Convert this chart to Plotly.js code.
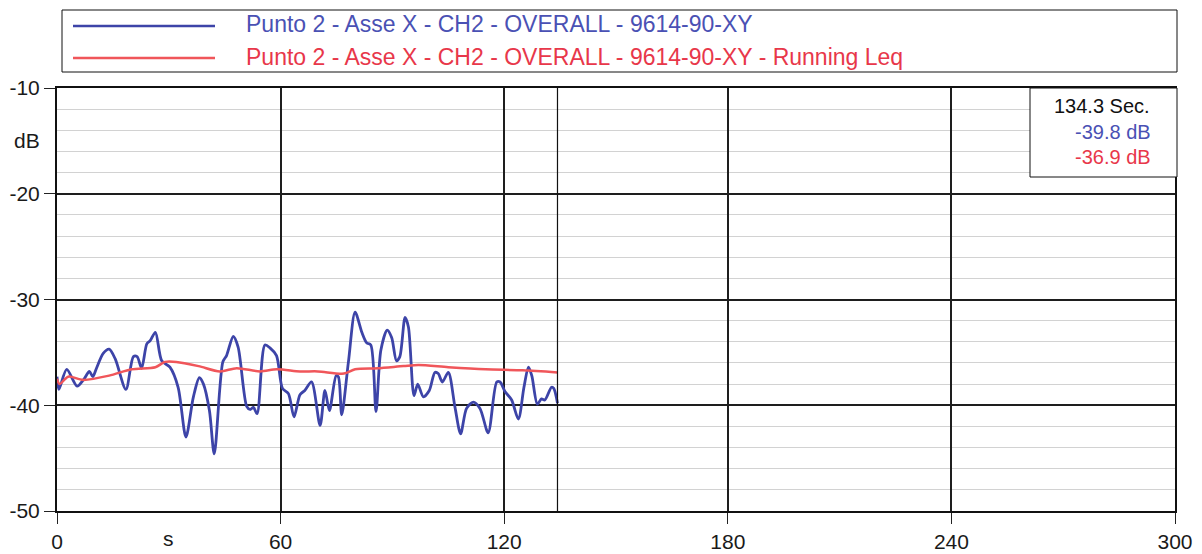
<!DOCTYPE html>
<html>
<head>
<meta charset="utf-8">
<script src="https://cdn.plot.ly/plotly-3.0.1.min.js"></script>
<style>
html,body{margin:0;padding:0;background:#fff;}
#chart{width:1202px;height:554px;}
</style>
</head>
<body>
<div id="chart"></div>
<script>
// ---- data ----
const seriesNames = [
  "Punto 2 - Asse X - CH2 - OVERALL - 9614-90-XY",
  "Punto 2 - Asse X - CH2 - OVERALL - 9614-90-XY - Running Leq"
];
const overallTime = [0, 0.5, 2.6, 5.4, 7.1, 8.7, 9.6, 10.6, 12.4, 14.0, 15.6, 18.5, 20.5, 21.5, 22.7, 24.1, 25.0, 26.4, 28.1, 30.3, 32.5, 34.6, 36.6, 38.2, 39.3, 40.9, 42.2, 44.5, 45.5, 47.3, 48.6, 50.9, 51.8, 52.7, 53.7, 55.8, 57.2, 58.9, 60.5, 62.1, 63.6, 65.2, 66.5, 68.3, 70.6, 71.9, 73.1, 74.9, 75.5, 76.4, 78.2, 80.0, 81.8, 83.1, 84.2, 85.6, 86.9, 88.6, 89.8, 91.1, 92.0, 93.4, 94.3, 95.8, 96.8, 98.3, 99.9, 101.4, 102.3, 103.4, 105.0, 106.8, 108.3, 109.9, 111.7, 113.5, 115.7, 118.0, 118.9, 120.2, 122.0, 123.8, 125.3, 126.5, 127.4, 128.9, 130.0, 130.9, 132.7, 133.3, 134.3];
const overallDb = [-37.3, -38.5, -36.6, -38.2, -37.6, -36.8, -37.3, -36.5, -35.1, -34.7, -35.6, -38.5, -35.4, -35.4, -36.5, -34.2, -33.9, -33.1, -35.8, -36.4, -38.3, -43.0, -39.2, -37.4, -38.0, -40.5, -44.6, -35.9, -35.3, -33.5, -34.5, -40.1, -40.4, -40.2, -40.8, -34.3, -34.6, -35.3, -38.4, -38.9, -41.1, -39.0, -38.6, -37.8, -41.9, -38.6, -40.5, -37.2, -37.3, -40.9, -35.9, -31.2, -33.1, -34.1, -34.3, -40.6, -34.8, -32.9, -33.6, -35.8, -35.4, -31.7, -32.6, -39.1, -38.0, -39.2, -38.6, -36.9, -37.0, -37.8, -36.9, -40.2, -42.7, -40.3, -39.7, -40.3, -42.6, -37.8, -37.8, -38.7, -39.5, -41.3, -38.3, -36.4, -37.2, -39.9, -39.4, -39.5, -38.3, -38.4, -39.8];
const leqTime = [0, 0.7, 3, 7, 14, 20, 26.4, 29, 32, 38, 43.7, 48.2, 54.5, 59, 65.2, 70, 77, 80, 86, 93, 97, 105, 115, 125, 134.3];
const leqDb = [-37.5, -38.0, -37.3, -37.6, -37.2, -36.6, -36.4, -35.9, -35.9, -36.3, -36.8, -36.5, -36.8, -36.6, -36.8, -36.8, -37.0, -36.6, -36.5, -36.3, -36.2, -36.4, -36.6, -36.7, -36.9];
const xTicks = [0, 60, 120, 180, 240, 300];
const yTicks = [-50, -40, -30, -20, -10];
const cursorTime = 134.3;
const cursorReadout = ["134.3 Sec.", "-39.8 dB", "-36.9 dB"];
const xUnit = "s";
const yUnit = "dB";

// ---- style ----
const BLUE = "#3d44a8", BLUE_TXT = "#4a51b4";
const RED = "#f0565a", RED_TXT = "#e8374a";
const FONT = "Liberation Sans, Arial, sans-serif";
const W = 1202, H = 554, ML = 57, MR = 27, MT = 88, MB = 43;
const PW = W - ML - MR, PH = H - MT - MB;
const px = x => (x - ML) / PW;
const py = y => (H - MB - y) / PH;

const traces = [
  {x: overallTime, y: overallDb, type: "scatter", mode: "lines", name: seriesNames[0],
   line: {color: BLUE, width: 2.8, shape: "spline", smoothing: 0.8}, showlegend: false},
  {x: leqTime, y: leqDb, type: "scatter", mode: "lines", name: seriesNames[1],
   line: {color: RED, width: 2.5, shape: "spline", smoothing: 0.8}, showlegend: false}
];

const shapes = [
  {type: "line", xref: "x", yref: "paper", x0: cursorTime, x1: cursorTime, y0: 0, y1: 1,
   line: {color: "#111", width: 1.2}, layer: "above"},
  {type: "rect", xref: "paper", yref: "paper", x0: px(62), x1: px(1177), y0: py(72), y1: py(10),
   line: {color: "#111", width: 1}, fillcolor: "#fff"},
  {type: "line", xref: "paper", yref: "paper", x0: px(73), x1: px(215), y0: py(26), y1: py(26),
   line: {color: BLUE, width: 2.6}},
  {type: "line", xref: "paper", yref: "paper", x0: px(73), x1: px(215), y0: py(58), y1: py(58),
   line: {color: RED, width: 2.6}},
  {type: "rect", xref: "paper", yref: "paper", x0: px(1030), x1: px(1177), y0: py(177), y1: py(88),
   line: {color: "#111", width: 1}, fillcolor: "#fff", layer: "above"}
];

const annotations = [
  {xref: "paper", yref: "paper", x: px(244), y: py(24), xanchor: "left", yanchor: "middle",
   text: seriesNames[0], showarrow: false, font: {family: FONT, size: 23, color: BLUE_TXT}},
  {xref: "paper", yref: "paper", x: px(244), y: py(57), xanchor: "left", yanchor: "middle",
   text: seriesNames[1], showarrow: false, font: {family: FONT, size: 23, color: RED_TXT}},
  {xref: "paper", yref: "paper", x: px(1152), y: py(106), xanchor: "right", yanchor: "middle",
   text: cursorReadout[0], showarrow: false, font: {family: FONT, size: 20, color: "#111"}},
  {xref: "paper", yref: "paper", x: px(1153), y: py(132), xanchor: "right", yanchor: "middle",
   text: cursorReadout[1], showarrow: false, font: {family: FONT, size: 20, color: BLUE_TXT}},
  {xref: "paper", yref: "paper", x: px(1153), y: py(157), xanchor: "right", yanchor: "middle",
   text: cursorReadout[2], showarrow: false, font: {family: FONT, size: 20, color: RED_TXT}},
  {xref: "paper", yref: "y", x: px(42), y: -15, xanchor: "right", yanchor: "middle",
   text: yUnit, showarrow: false, font: {family: FONT, size: 21, color: "#1a1a1a"}},
  {xref: "x", yref: "paper", x: 30, y: py(538), xanchor: "center", yanchor: "middle",
   text: xUnit, showarrow: false, font: {family: FONT, size: 21, color: "#1a1a1a"}}
];

const layout = {
  width: W, height: H,
  margin: {l: ML, r: MR, t: MT, b: MB, pad: 0},
  paper_bgcolor: "#fff", plot_bgcolor: "#fff",
  font: {family: FONT, size: 21, color: "#1a1a1a"},
  showlegend: false,
  xaxis: {
    range: [0, 300], tickmode: "array", tickvals: xTicks, ticktext: xTicks.map(String),
    showgrid: true, gridcolor: "#1e1e1e", gridwidth: 2,
    showline: true, linecolor: "#111", linewidth: 2, mirror: true,
    ticks: "outside", ticklen: 11, tickcolor: "#222", tickwidth: 1,
    zeroline: false, tickfont: {family: FONT, size: 21, color: "#1a1a1a"}
  },
  yaxis: {
    range: [-50, -10], tickmode: "array", tickvals: yTicks, ticktext: yTicks.map(String),
    showgrid: true, gridcolor: "#1e1e1e", gridwidth: 2,
    showline: true, linecolor: "#111", linewidth: 2, mirror: true,
    ticks: "outside", ticklen: 11, tickcolor: "#222", tickwidth: 1,
    zeroline: false, tickfont: {family: FONT, size: 21, color: "#1a1a1a"},
    minor: {dtick: 2, tick0: -50, showgrid: true, gridcolor: "#d2d2d2", gridwidth: 1, ticks: ""}
  },
  shapes: shapes,
  annotations: annotations
};

Plotly.newPlot("chart", traces, layout, {staticPlot: true, displayModeBar: false});
</script>
</body>
</html>
